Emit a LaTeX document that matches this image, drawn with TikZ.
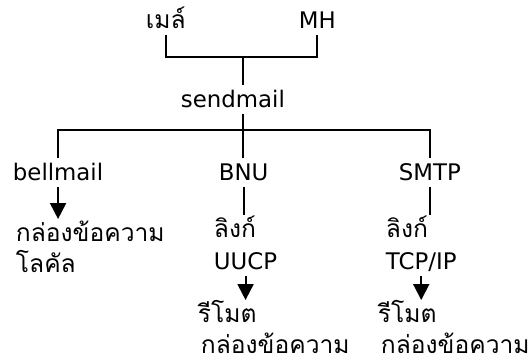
\documentclass[tikz,border=0pt]{standalone}
\usepackage{fontspec}
\setmainfont{DejaVu Sans}
\newfontfamily\thaifont[Script=Thai]{Loma}
\usetikzlibrary{arrows.meta}

\begin{document}
\begin{tikzpicture}
     [
     wort/.style = {inner sep=0.1cm, text height=0.34cm, text depth=0pt, anchor=base west},
     thai/.style = {wort, font=\thaifont\fontsize{14}{16}\selectfont},
     >={Triangle[width=0.32cm,length=0.32cm]}, line width=1.1pt
     ]
     \fontsize{13}{15}\selectfont

     \useasboundingbox (0,0) rectangle (10.64,7.24);

     \path (2.80,6.66) node[thai] (mail) {เมล์}
           (5.86,6.66) node[wort] (mh) {MH}
           (3.50,5.08) node[wort] (sendmail) {sendmail}
           (0.14,3.62) node[wort] (bellmail) {bellmail}
           (4.26,3.62) node[wort] (bnu) {BNU}
           (7.86,3.62) node[wort] (smtp) {SMTP}
           (0.20,2.40) node[thai] (localbox) {กล่องข้อความ}
           (0.20,1.78) node[thai] (local) {โลคัล}
           (4.16,2.48) node[thai] (link1) {ลิงก์}
           (4.16,1.84) node[wort] (uucp) {UUCP}
           (3.84,0.78) node[thai] (remote1) {รีโมต}
           (3.90,0.16) node[thai] (rbox1) {กล่องข้อความ}
           (7.60,2.48) node[thai] (link2) {ลิงก์}
           (7.60,1.84) node[wort] (tcpip) {TCP/IP}
           (7.44,0.78) node[thai] (remote2) {รีโมต}
           (7.50,0.16) node[thai] (rbox2) {กล่องข้อความ}
     ;

     \coordinate (upper) at (4.86,6.10);
     \coordinate (lower) at (4.86,4.64);

     % upper tree
     \draw (mail.south) |- (upper) -| (mh.south);
     \draw (upper) -- (upper |- sendmail.north)
           (upper |- sendmail.south) -- (lower);

     % lower tree
     \draw (bellmail.north) |- (lower) -| (smtp.north);
     \draw (lower) -- (lower |- bnu.north);
     \draw (bnu.south) -- (bnu.south |- link1.north);
     \draw (smtp.south) -- (smtp.south |- link2.north);

     \draw[->] (bellmail.south) -- (bellmail.south |- localbox.north);
     \draw[->] (uucp.south) -- (uucp.south |- remote1.north);
     \draw[->] (tcpip.south) -- (tcpip.south |- remote2.north);
\end{tikzpicture}
\end{document}
